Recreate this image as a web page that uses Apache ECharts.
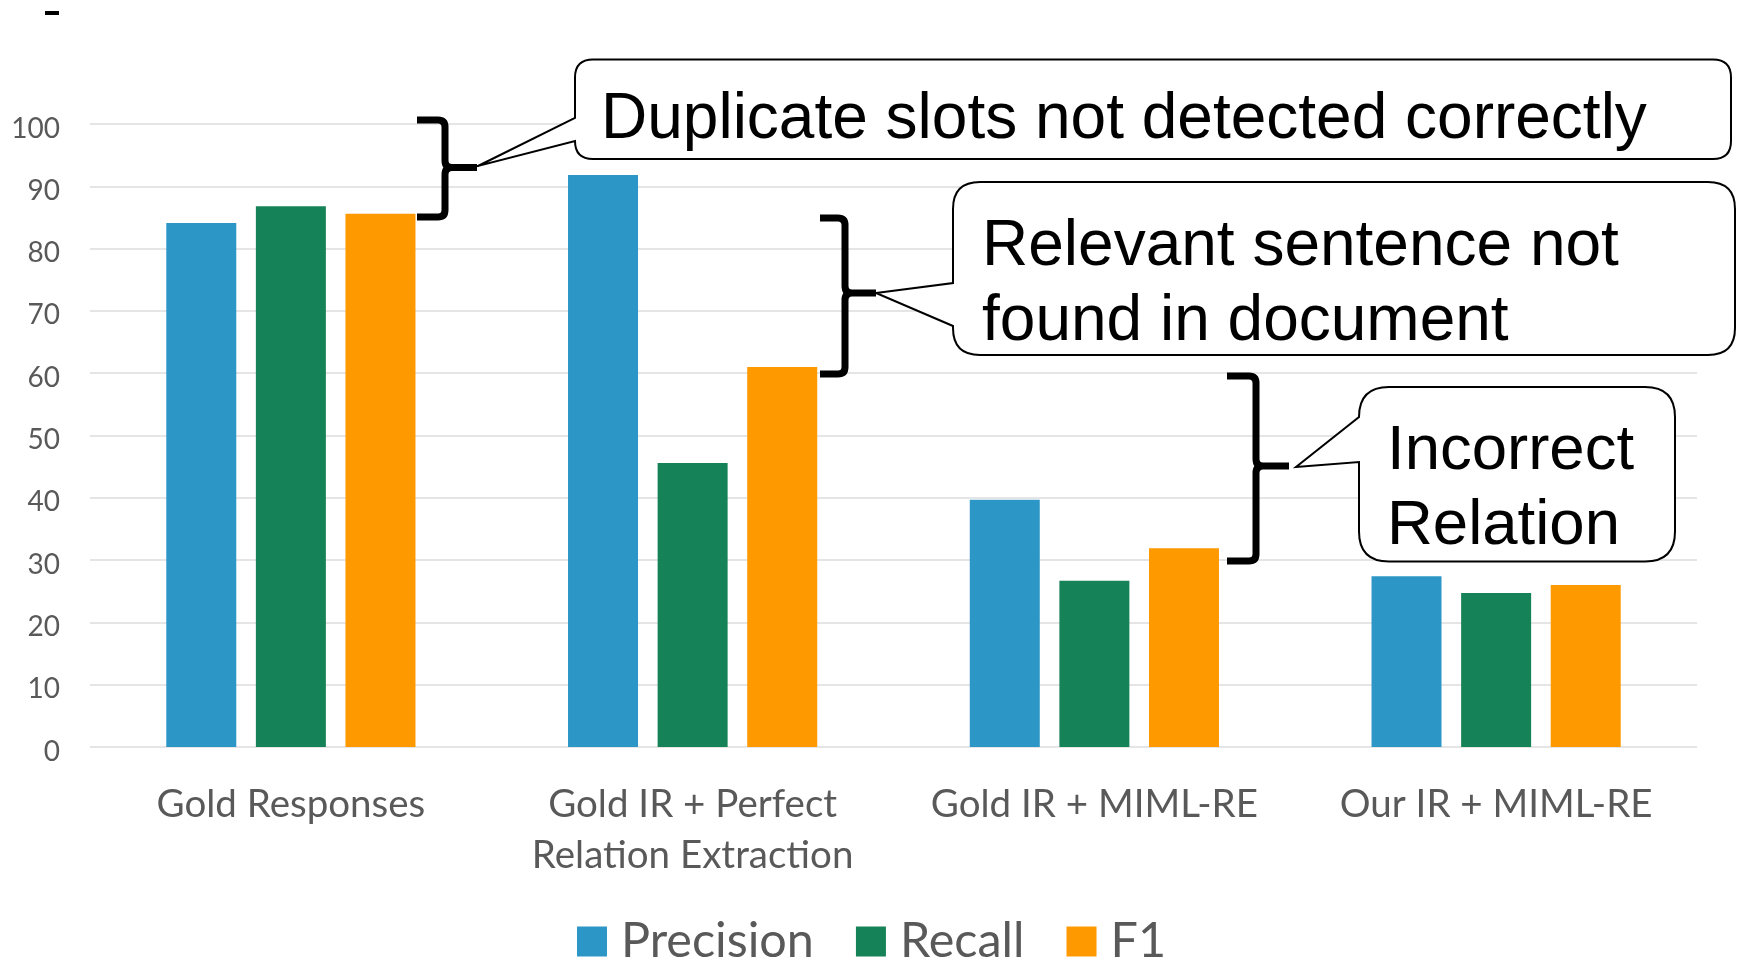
<!DOCTYPE html>
<html>
<head>
<meta charset="utf-8">
<script src="https://cdn.jsdelivr.net/npm/echarts@6/dist/echarts.min.js"></script>
<style>
html,body{margin:0;padding:0;background:#fff;}
#chart{width:1738px;height:961px;}
</style>
</head>
<body>
<div id="chart"></div>
<script>
// ---- data ----
const categories = ['Gold Responses', 'Gold IR + Perfect\nRelation Extraction', 'Gold IR + MIML-RE', 'Our IR + MIML-RE'];
const seriesNames = ['Precision', 'Recall', 'F1'];
const precision = [84.1, 91.8, 39.7, 27.4];
const recall = [86.8, 45.6, 26.7, 24.7];
const f1 = [85.6, 61.0, 31.9, 26.0];
const yMin = 0, yMax = 100, yInterval = 10;
const calloutTexts = ['Duplicate slots not detected correctly', 'Relevant sentence not\nfound in document', 'Incorrect\nRelation'];

// ---- styling ----
const colors = ['#2C97C7', '#168257', '#FF9900'];
const labelFont = 'Lato';
const calloutFont = '"Liberation Sans", Arial, sans-serif';

// custom shapes
const CalloutShape = echarts.graphic.extendShape({
  shape: {l: 0, t: 0, r: 0, b: 0, rad: 0, y1: 0, y2: 0, tx: 0, ty: 0},
  buildPath: function (ctx, s) {
    ctx.moveTo(s.l + s.rad, s.t);
    ctx.lineTo(s.r - s.rad, s.t);
    ctx.quadraticCurveTo(s.r, s.t, s.r, s.t + s.rad);
    ctx.lineTo(s.r, s.b - s.rad);
    ctx.quadraticCurveTo(s.r, s.b, s.r - s.rad, s.b);
    ctx.lineTo(s.l + s.rad, s.b);
    ctx.quadraticCurveTo(s.l, s.b, s.l, s.b - s.rad);
    ctx.lineTo(s.l, s.y2);
    ctx.lineTo(s.tx, s.ty);
    ctx.lineTo(s.l, s.y1);
    ctx.lineTo(s.l, s.t + s.rad);
    ctx.quadraticCurveTo(s.l, s.t, s.l + s.rad, s.t);
    ctx.closePath();
  }
});
const BraceShape = echarts.graphic.extendShape({
  shape: {x0: 0, yT: 0, xv: 0, yM: 0, xt: 0, yB: 0},
  buildPath: function (ctx, s) {
    const c = 7;
    ctx.moveTo(s.x0, s.yT);
    ctx.lineTo(s.xv - c, s.yT);
    ctx.quadraticCurveTo(s.xv, s.yT, s.xv, s.yT + c);
    ctx.lineTo(s.xv, s.yM - c);
    ctx.quadraticCurveTo(s.xv, s.yM, s.xv + c, s.yM);
    ctx.lineTo(s.xt, s.yM);
    ctx.moveTo(s.xv + c, s.yM);
    ctx.quadraticCurveTo(s.xv, s.yM, s.xv, s.yM + c);
    ctx.lineTo(s.xv, s.yB - c);
    ctx.quadraticCurveTo(s.xv, s.yB, s.xv - c, s.yB);
    ctx.lineTo(s.x0, s.yB);
  }
});
echarts.graphic.registerShape('callout', CalloutShape);
echarts.graphic.registerShape('brace', BraceShape);

const chart = echarts.init(document.getElementById('chart'), null, {renderer: 'canvas'});

const barCommon = {
  type: 'bar',
  barWidth: 70,
  barGap: '28%',
  barCategoryGap: '0%'
};

const braceStyle = {fill: null, stroke: '#000', lineWidth: 7};
const boxStyle = {fill: '#fff', stroke: '#000', lineWidth: 2};

const option = {
  animation: false,
  backgroundColor: '#ffffff',
  color: colors,
  grid: {left: 90, right: 41, top: 124, bottom: 214, containLabel: false},
  xAxis: {
    type: 'category',
    data: categories,
    axisLine: {show: false},
    axisTick: {show: false},
    axisLabel: {
      color: '#595959',
      fontFamily: labelFont,
      fontSize: 38.5,
      lineHeight: 51,
      margin: 32,
      interval: 0
    }
  },
  yAxis: {
    type: 'value',
    min: yMin,
    max: yMax,
    interval: yInterval,
    axisLine: {show: false},
    axisTick: {show: false},
    axisLabel: {
      color: '#595959',
      fontFamily: labelFont,
      fontSize: 28,
      margin: 30,
      verticalAlign: 'top',
      lineHeight: 9
    },
    splitLine: {lineStyle: {color: '#DCDCDC', width: 1.5}}
  },
  legend: {
    data: seriesNames,
    left: 577,
    top: 917,
    padding: 0,
    icon: 'rect',
    itemWidth: 30,
    itemHeight: 30,
    itemGap: 42,
    textStyle: {
      color: '#595959',
      fontFamily: labelFont,
      fontSize: 48.5,
      padding: [0, 0, 0, 9]
    }
  },
  series: [
    Object.assign({name: seriesNames[0], data: precision}, barCommon),
    Object.assign({name: seriesNames[1], data: recall}, barCommon),
    Object.assign({name: seriesNames[2], data: f1}, barCommon)
  ],
  graphic: [
    {type: 'rect', z: 100, shape: {x: 45, y: 11, width: 14, height: 4}, style: {fill: '#000'}},
    // braces
    {type: 'brace', z: 100, shape: {x0: 417, yT: 120, xv: 445, yM: 167.5, xt: 477, yB: 217}, style: braceStyle},
    {type: 'brace', z: 100, shape: {x0: 820, yT: 218, xv: 845, yM: 293, xt: 876, yB: 374}, style: braceStyle},
    {type: 'brace', z: 100, shape: {x0: 1227, yT: 376, xv: 1256, yM: 466, xt: 1289, yB: 561}, style: braceStyle},
    // callouts
    {type: 'callout', z: 101, shape: {l: 575, t: 59.5, r: 1731, b: 159, rad: 18, y1: 118, y2: 141, tx: 478, ty: 166}, style: boxStyle},
    {type: 'callout', z: 101, shape: {l: 953, t: 182, r: 1735, b: 355, rad: 27, y1: 283, y2: 326, tx: 876, ty: 293}, style: boxStyle},
    {type: 'callout', z: 101, shape: {l: 1359, t: 387, r: 1675, b: 561.5, rad: 30, y1: 417, y2: 462, tx: 1296, ty: 467}, style: boxStyle},
    {type: 'text', z: 102, x: 601, y: 120.5,
      style: {text: calloutTexts[0], fontFamily: calloutFont, fontSize: 64, fill: '#000', align: 'left', verticalAlign: 'middle'}},
    {type: 'text', z: 102, x: 982, y: 285,
      style: {text: calloutTexts[1], fontFamily: calloutFont, fontSize: 64, lineHeight: 75, fill: '#000', align: 'left', verticalAlign: 'middle'}},
    {type: 'text', z: 102, x: 1387, y: 489,
      style: {text: calloutTexts[2], fontFamily: calloutFont, fontSize: 63.5, lineHeight: 75, fill: '#000', align: 'left', verticalAlign: 'middle'}}
  ]
};
chart.setOption(option);
</script>
</body>
</html>
